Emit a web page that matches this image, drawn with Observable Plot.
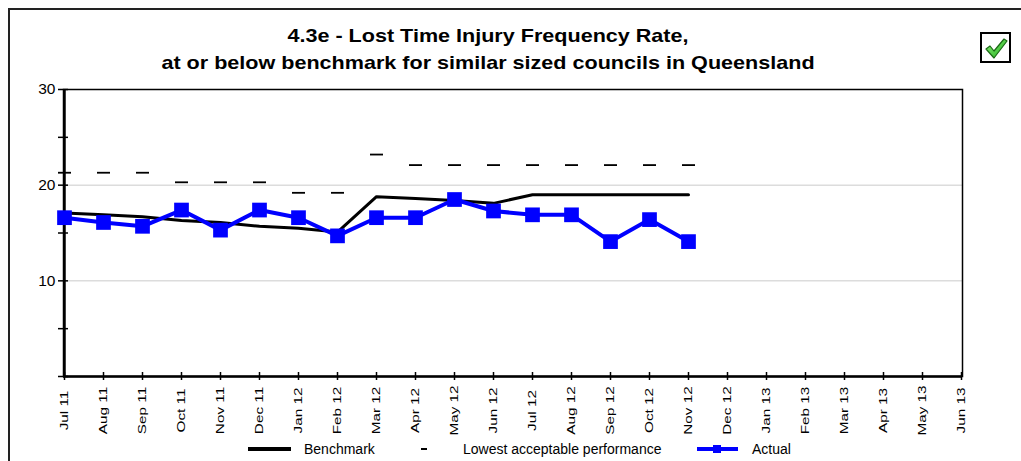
<!DOCTYPE html>
<html>
<head>
<meta charset="utf-8">
<script src="https://cdn.jsdelivr.net/npm/d3@7"></script>
<script src="https://cdn.jsdelivr.net/npm/@observablehq/plot@0.6"></script>
<style>
  html, body { margin: 0; padding: 0; background: #fff; overflow: hidden; }
  #wrap { position: relative; width: 1021px; height: 461px; overflow: hidden; font-family: "Liberation Sans", Arial, sans-serif; }
  #border { position: absolute; left: 8px; top: 8px; width: 1100px; height: 600px; border: 2px solid #222; box-sizing: border-box; }
  #title { position: absolute; left: 0; width: 976px; top: 22px; text-align: center; font-weight: bold; font-size: 19px; line-height: 27px; color: #000; transform: scaleX(1.135); transform-origin: 488px 0; }
  #chart { position: absolute; left: 0; top: 0; }
  #chart text { font-family: "Liberation Sans", Arial, sans-serif; }
  #chart g[aria-label="y-axis tick label"] text { font-size: 15.5px; }
  #check { position: absolute; left: 980px; top: 32px; }
  #legend { position: absolute; left: 0; top: 437px; }
</style>
</head>
<body>
<div id="wrap">
  <div id="border"></div>
  <div id="chart"></div>
  <div id="title">4.3e - Lost Time Injury Frequency Rate,<br>at or below benchmark for similar sized councils in Queensland</div>
  <svg id="check" width="32" height="32" viewBox="0 0 32 32">
    <defs>
      <linearGradient id="gck" x1="0" y1="0" x2="1" y2="1">
        <stop offset="0" stop-color="#8ef07a"/>
        <stop offset="1" stop-color="#1fae1a"/>
      </linearGradient>
    </defs>
    <rect x="1" y="1" width="29" height="29" fill="#fff" stroke="#000" stroke-width="2"/>
    <path d="M6 17 L10 14 L14 19 L24 7 L27 9 L14 26 Z" fill="url(#gck)" stroke="#1a6a14" stroke-width="1.2" stroke-linejoin="round"/>
  </svg>
  <svg id="legend" width="1021" height="24"></svg>
</div>
<script>
const months = ["Jul 11","Aug 11","Sep 11","Oct 11","Nov 11","Dec 11","Jan 12","Feb 12","Mar 12","Apr 12","May 12","Jun 12","Jul 12","Aug 12","Sep 12","Oct 12","Nov 12","Dec 12","Jan 13","Feb 13","Mar 13","Apr 13","May 13","Jun 13"];
const benchmark = [17.1,16.9,16.7,16.3,16.1,15.7,15.5,15.1,18.8,18.6,18.4,18.1,19.0,19.0,19.0,19.0,19.0];
const lowest = [21.3,21.3,21.3,20.3,20.3,20.3,19.2,19.2,23.2,22.1,22.1,22.1,22.1,22.1,22.1,22.1,22.1];
const actual = [16.6,16.1,15.7,17.4,15.3,17.4,16.6,14.7,16.6,16.6,18.5,17.3,16.9,16.9,14.1,16.4,14.1];
const yTicks = [0,5,10,15,20,25,30];
const yLabels = [10,20,30];
const gridValues = [10,20];
const seriesNames = ["Benchmark","Lowest acceptable performance","Actual"];

const rows = actual.map((v, i) => ({month: months[i], benchmark: benchmark[i], lowest: lowest[i], actual: v}));

const dashSymbol = {
  draw(context, size) {
    const r = Math.sqrt(size / Math.PI);
    context.moveTo(-r, 0);
    context.lineTo(r, 0);
  }
};

const chart = Plot.plot({
  width: 1021,
  height: 461,
  marginLeft: 63,
  marginRight: 59,
  marginTop: 89,
  marginBottom: 85,
  style: {fontFamily: "Liberation Sans, Arial, sans-serif", fontSize: "14px", color: "#000", background: "transparent"},
  x: {type: "point", domain: months, padding: 0, label: null},
  y: {domain: [0, 30], label: null},
  marks: [
    Plot.ruleY(gridValues, {stroke: "#dcdcdc", strokeWidth: 1.5}),
    Plot.frame({stroke: "#000", strokeWidth: 1.5}),
    Plot.axisY({ticks: yTicks, tickSize: 10, dx: 5, tickFormat: () => "", label: null, strokeWidth: 1.5}),
    Plot.axisY({ticks: yLabels, tickSize: 0, tickPadding: 8, label: null}),
    Plot.axisX({tickSize: 8, dy: -4, tickFormat: () => "", label: null, strokeWidth: 1.5}),
    Plot.axisX({tickSize: 0, tickPadding: 34, tickRotate: -90, textAnchor: "middle", label: null, fontSize: 11.5}),
    Plot.ruleY([0], {stroke: "#000", strokeWidth: 2.5}),
    Plot.ruleX([months[0]], {stroke: "#000", strokeWidth: 2.5}),
    Plot.dot(rows, {x: "month", y: "lowest", symbol: dashSymbol, r: 6.5, stroke: "#000", strokeWidth: 1.8}),
    Plot.line(rows, {x: "month", y: "benchmark", stroke: "#000", strokeWidth: 3}),
    Plot.line(rows, {x: "month", y: "actual", stroke: "#0000ff", strokeWidth: 4}),
    Plot.dot(rows, {x: "month", y: "actual", symbol: "square", r: 8.3, fill: "#0000ff"})
  ]
});
document.getElementById("chart").append(chart);

// stretch the rotated month labels along their reading direction, as in the reference
d3.select(chart).selectAll('g[aria-label="x-axis tick label"] text').each(function() {
  const t = this.getAttribute("transform") || "";
  this.setAttribute("transform", t + " scale(1.33,1)");
});

// legend
const lg = d3.select("#legend");
const ly = 12;
lg.append("line").attr("x1", 248).attr("x2", 291).attr("y1", ly).attr("y2", ly).attr("stroke", "#000").attr("stroke-width", 4);
lg.append("text").attr("x", 304).attr("y", ly).attr("dy", "0.35em").text(seriesNames[0]);
lg.append("line").attr("x1", 421).attr("x2", 427).attr("y1", ly).attr("y2", ly).attr("stroke", "#000").attr("stroke-width", 2);
lg.append("text").attr("x", 463).attr("y", ly).attr("dy", "0.35em").text(seriesNames[1]);
lg.append("line").attr("x1", 697).attr("x2", 738).attr("y1", ly).attr("y2", ly).attr("stroke", "#0000ff").attr("stroke-width", 4);
lg.append("rect").attr("x", 713).attr("y", ly - 4).attr("width", 8).attr("height", 8).attr("fill", "#0000ff");
lg.append("text").attr("x", 752).attr("y", ly).attr("dy", "0.35em").text(seriesNames[2]);
lg.selectAll("text").attr("font-family", "Liberation Sans, Arial, sans-serif").attr("font-size", 14).attr("fill", "#000");
</script>
</body>
</html>
